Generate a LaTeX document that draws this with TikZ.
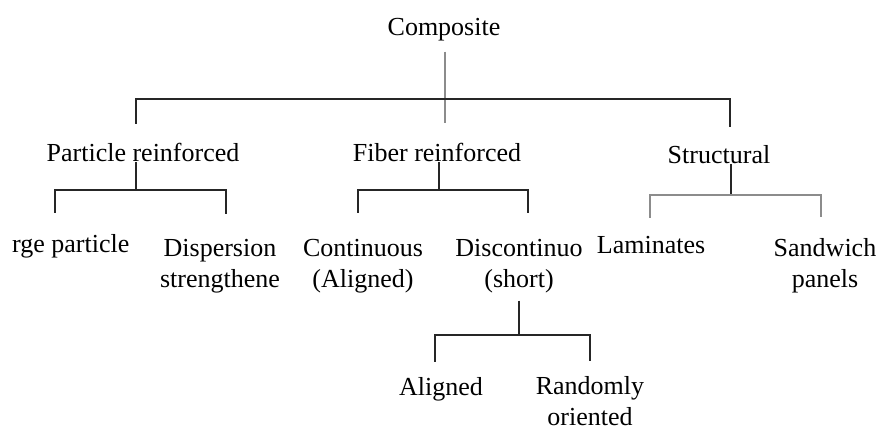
\documentclass[tikz,border=0pt]{standalone}
\usepackage{fontspec}
\setmainfont{Liberation Serif}
\usetikzlibrary{calc}

\tikzset{
  lbl/.style={anchor=base, inner sep=0pt, align=center, font=\fontsize{26}{31}\selectfont},
  link/.style={draw=black!85, line width=1.6pt},
  faint/.style={draw=black!45, line width=1.6pt}
}

\begin{document}
\begin{tikzpicture}[x=1pt, y=-1pt]
  \useasboundingbox (0,0) rectangle (877,430);
  \node[lbl] (comp) at (444,36) {Composite};
  \node[lbl] (part) at (143,162) {Particle reinforced};
  \node[lbl] (fib) at (437,162) {Fiber reinforced};
  \node[lbl] (str) at (719,164) {Structural};
  \node[lbl, anchor=base west] (large) at (12,252) {rge particle};
  \node[lbl] (disp) at (220,287) {Dispersion\\strengthene};
  \node[lbl] (cont) at (363,287) {Continuous\\(Aligned)};
  \node[lbl] (disc) at (519,287) {Discontinuo\\(short)};
  \node[lbl] (lam) at (651,253) {Laminates};
  \node[lbl] (sand) at (825,287) {Sandwich\\panels};
  \node[lbl] (ali) at (441,395) {Aligned};
  \node[lbl] (rand) at (590,425) {Randomly\\oriented};

  \coordinate (j0) at (445,99);
  \coordinate (j1) at (136,190);
  \coordinate (j2) at (439,190);
  \coordinate (j3) at (731,195);
  \coordinate (j4) at (519,335);

  \draw[faint, line width=1.2pt, shorten <=10pt, shorten >=20pt] (comp.south -| j0) -- (j0 |- fib.north);
  \draw[link, shorten >=19pt] (j0) -| ([xshift=-7pt]part.north);
  \draw[link, shorten >=19pt] (j0) -| ([xshift=11pt]str.north);

  \draw[link] (j1 |- part.base) -- (j1);
  \draw[link, shorten >=21pt] (j1) -| ([xshift=43pt]large.north west);
  \draw[link, shorten >=25pt] (j1) -| ([xshift=6pt]disp.north);

  \draw[link] (j2 |- fib.base) -- (j2);
  \draw[link, shorten >=26pt] (j2) -| ([xshift=-5pt]cont.north);
  \draw[link, shorten >=26pt] (j2) -| ([xshift=9pt]disc.north);

  \draw[link] (j3 |- str.base) -- (j3);
  \draw[faint, shorten >=18pt] (j3) -| ([xshift=-1pt]lam.north);
  \draw[faint, shorten >=21pt] (j3) -| ([xshift=-4pt]sand.north);

  \draw[link, shorten <=8pt] (disc.south) -- (j4);
  \draw[link, shorten >=15pt] (j4) -| ([xshift=-6pt]ali.north);
  \draw[link, shorten >=15pt] (j4) -| (rand.north);
\end{tikzpicture}
\end{document}
